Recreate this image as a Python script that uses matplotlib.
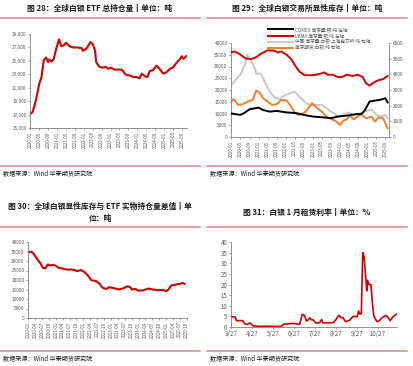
import matplotlib
matplotlib.use('Agg')
import matplotlib.pyplot as plt
import matplotlib.dates as mdates
import matplotlib.ticker as ticker
import pandas as pd

plt.rcParams['font.family'] = ['Noto Sans CJK SC', 'DejaVu Sans']

RED = '#d00000'
GRID_TXT = '#595959'
DIVIDER = '#dc8484'

# ---- chart 28: global silver ETF holdings (t)
etf_dates = ['2020-01-01', '2020-02-01', '2020-03-15', '2020-05-01', '2020-06-01', '2020-07-01',
             '2020-08-01', '2020-09-01', '2020-09-15', '2020-10-18', '2020-11-15', '2020-12-18',
             '2021-01-25', '2021-02-25', '2021-04-01', '2021-05-01', '2021-06-18', '2021-08-01',
             '2021-10-01', '2021-12-01', '2021-12-18', '2022-02-01', '2022-04-01', '2022-05-01',
             '2022-06-01', '2022-06-18', '2022-08-01', '2022-09-18', '2022-11-01', '2022-12-01',
             '2023-01-01', '2023-03-01', '2023-06-01', '2023-07-01', '2023-08-01', '2023-10-01',
             '2023-11-01', '2023-12-20', '2024-02-01', '2024-03-01', '2024-04-12', '2024-05-18',
             '2024-06-20', '2024-08-01', '2024-09-20', '2024-11-01', '2024-12-20', '2025-02-01',
             '2025-03-20', '2025-05-01', '2025-06-20', '2025-08-01', '2025-09-01', '2025-09-20',
             '2025-11-01']
etf_vals = [17100, 17400, 19100, 21600, 22600, 25100, 25500, 24800, 25200, 24900, 25300, 26800,
            28200, 27200, 27300, 27700, 27200, 27000, 27000, 26900, 26500, 26800, 27800, 27500,
            26600, 24800, 24100, 24000, 24100, 23800, 24000, 23700, 23700, 23300, 22900, 22800,
            22600, 22600, 22400, 23100, 22700, 22600, 23500, 23600, 24300, 23800, 23100, 23300,
            23800, 24000, 24700, 25200, 25700, 25300, 25700]
etf_ticks = [15000, 17000, 19000, 21000, 23000, 25000, 27000, 29000]

# ---- chart 29: exchange inventories
lbma_dates = ['2020-01-01', '2020-02-15', '2020-04-01', '2020-06-01', '2020-07-18', '2020-09-25',
              '2020-12-01', '2021-02-01', '2021-05-01', '2021-08-01', '2021-09-18', '2021-11-01',
              '2022-01-12', '2022-03-15', '2022-05-01', '2022-07-01', '2022-09-12', '2023-01-01',
              '2023-04-01', '2023-06-01', '2023-07-18', '2023-09-25', '2023-12-01', '2024-02-01',
              '2024-04-01', '2024-06-15', '2024-09-01', '2024-11-01', '2024-12-15', '2025-02-01',
              '2025-04-01', '2025-06-10', '2025-08-01', '2025-10-01']
lbma_vals = [36150, 36400, 35700, 34300, 33300, 33200, 34000, 35400, 36900, 36700, 36000, 36400,
             35000, 33200, 30700, 27900, 26300, 26300, 26800, 27500, 26500, 26500, 25500, 25600,
             26500, 26000, 26500, 25500, 22900, 21900, 23300, 24300, 24600, 26000]

comex_dates = ['2020-01-01', '2020-05-01', '2020-07-01', '2020-09-01', '2021-01-01', '2021-03-01',
               '2021-06-01', '2021-09-01', '2022-01-01', '2022-06-01', '2022-09-01', '2023-01-01',
               '2023-05-01', '2023-09-01', '2023-12-01', '2024-04-01', '2024-08-01', '2024-10-15',
               '2024-12-01', '2025-02-01', '2025-04-15', '2025-06-20', '2025-09-01', '2025-10-01']
comex_vals = [10000, 9400, 10400, 11800, 12500, 11500, 10800, 11100, 10500, 10100, 9400, 8700,
              8400, 8000, 8700, 9100, 9700, 9800, 11500, 15100, 15500, 15800, 16500, 14700]

sge_dates = ['2020-01-01', '2020-02-25', '2020-05-01', '2020-07-01', '2020-08-01', '2020-09-01',
             '2020-11-01', '2020-12-01', '2021-02-01', '2021-04-01', '2021-06-01', '2021-08-01',
             '2021-10-01', '2022-01-01', '2022-02-01', '2022-04-01', '2022-05-01', '2022-07-01',
             '2022-10-01', '2022-12-01', '2023-03-01', '2023-05-01', '2023-07-01', '2023-10-01',
             '2023-12-15', '2024-03-01', '2024-05-01', '2024-07-01', '2024-10-01', '2024-12-01',
             '2025-03-01', '2025-05-01', '2025-07-01', '2025-09-01', '2025-10-01']
sge_vals = [3330, 3650, 3970, 4610, 5250, 5040, 4500, 4040, 4040, 3440, 2900, 2540, 2430, 2690,
            2750, 2840, 2900, 2580, 2160, 2050, 2050, 2050, 1840, 1520, 1300, 1470, 1560, 1410,
            1470, 1620, 1770, 1410, 1300, 1410, 1200]

shfe_dates = ['2020-01-01', '2020-02-01', '2020-04-01', '2020-06-01', '2020-08-10', '2020-10-15',
              '2020-12-01', '2021-01-15', '2021-03-01', '2021-05-01', '2021-07-01', '2021-09-01',
              '2021-11-01', '2022-01-15', '2022-03-15', '2022-05-01', '2022-06-15', '2022-09-01',
              '2022-10-15', '2022-12-20', '2023-03-01', '2023-05-01', '2023-07-01', '2023-09-15',
              '2023-11-15', '2024-01-01', '2024-02-15', '2024-04-01', '2024-05-15', '2024-07-01',
              '2024-09-01', '2024-10-15', '2024-11-01', '2024-12-15', '2025-03-01', '2025-04-15',
              '2025-06-01', '2025-08-01', '2025-09-01', '2025-10-01']
shfe_vals = [2260, 2430, 2050, 2090, 2260, 2370, 2970, 2840, 2480, 2260, 2050, 2090, 2370, 2330,
             1940, 1560, 1410, 1520, 1730, 2160, 1840, 1620, 1300, 1130, 980, 770, 1050, 1130,
             1350, 1130, 1300, 1520, 1350, 1200, 1300, 980, 1260, 1200, 875, 555]

# ---- chart 30: visible inventory minus ETF holdings
gap_dates = ['2020-01-01', '2020-02-12', '2020-03-18', '2020-05-01', '2020-06-12', '2020-07-12',
             '2020-08-15', '2020-09-15', '2020-10-20', '2020-12-01', '2021-01-07', '2021-02-07',
             '2021-03-18', '2021-05-25', '2021-08-01', '2021-09-10', '2021-10-10', '2021-12-01',
             '2022-01-18', '2022-03-01', '2022-04-15', '2022-06-18', '2022-08-01', '2022-09-12',
             '2022-10-28', '2022-12-10', '2023-02-12', '2023-04-15', '2023-06-20', '2023-08-01',
             '2023-09-07', '2023-10-07', '2023-11-20', '2024-01-01', '2024-03-07', '2024-05-10',
             '2024-07-15', '2024-09-18', '2024-11-20', '2025-01-01', '2025-02-01', '2025-03-10',
             '2025-05-12', '2025-07-10', '2025-08-10', '2025-09-01']
gap_vals = [34700, 34900, 33500, 30800, 28700, 26400, 26100, 28200, 27700, 28000, 27300, 26400,
            26100, 25500, 25500, 25200, 24700, 25200, 24100, 22400, 19900, 19400, 18100, 15900,
            15300, 16200, 15700, 15000, 15700, 16700, 16400, 15000, 15300, 14400, 14600, 15500,
            15000, 14600, 14800, 14100, 15000, 17100, 17600, 18100, 18500, 18000]

# ---- chart 31: silver 1M lease rate (%)
lease_dates = ['2025-03-27', '2025-04-02', '2025-04-04', '2025-04-09', '2025-04-13', '2025-04-16',
               '2025-04-20', '2025-04-23', '2025-04-26', '2025-04-29', '2025-05-08', '2025-05-18',
               '2025-05-27', '2025-06-04', '2025-06-09', '2025-06-12', '2025-06-18', '2025-06-26',
               '2025-06-30', '2025-07-05', '2025-07-09', '2025-07-12', '2025-07-15', '2025-07-17',
               '2025-07-20', '2025-07-22', '2025-07-25', '2025-07-27', '2025-07-29', '2025-08-03',
               '2025-08-06', '2025-08-08', '2025-08-13', '2025-08-23', '2025-08-27', '2025-08-31',
               '2025-09-04', '2025-09-06', '2025-09-10', '2025-09-16', '2025-09-21', '2025-09-25',
               '2025-09-27', '2025-09-29', '2025-10-01', '2025-10-03', '2025-10-05', '2025-10-07',
               '2025-10-09', '2025-10-11', '2025-10-12', '2025-10-14', '2025-10-17', '2025-10-19',
               '2025-10-21', '2025-10-23', '2025-10-26', '2025-10-29', '2025-11-03', '2025-11-08',
               '2025-11-11', '2025-11-14', '2025-11-18', '2025-11-23']
lease_vals = [4.8, 4.8, 3.0, 3.0, 3.0, 1.5, 1.2, 1.9, 1.2, 0.5, 0.3, 0.4, 0.3, 0.2, 0.5, 1.3, 1.5,
              1.7, 1.5, 1.2, 6.0, 5.5, 2.8, 3.2, 4.3, 3.5, 3.3, 2.5, 1.8, 2.0, 3.5, 2.0, 2.0, 2.0,
              3.5, 5.5, 4.3, 4.5, 2.5, 3.2, 5.0, 5.0, 4.8, 7.5, 6.0, 6.5, 35, 33, 25, 17, 22, 20,
              20, 12, 5.5, 4.0, 2.5, 3.0, 4.5, 5.5, 4.5, 3.0, 4.8, 6.0]

W, H = 414, 366
fig = plt.figure(figsize=(W / 100, H / 100), dpi=100)


def fx(px):
    return px / W


def fy(py):
    return 1 - py / H


def panel_frame(x0, title_lines, title_y, div_top, div_bot):
    for i, t in enumerate(title_lines):
        fig.text(fx(x0 + 100), fy(title_y[i]), t, ha='center', va='center',
                 fontsize=5.6, fontweight='bold', color='#1a1a1a')
    for y in (div_top, div_bot):
        fig.add_artist(plt.Line2D([fx(x0), fx(x0 + 200)], [fy(y), fy(y)],
                                  color=DIVIDER, lw=1.1))
    fig.text(fx(x0 + 3), fy(div_bot + 7), '数据来源：Wind 华泰期货研究院', ha='left', va='center',
             fontsize=4.4, color='#1a1a1a')


def add_axes(l, t, r, b):
    return fig.add_axes([fx(l), fy(b), fx(r) - fx(l), fy(t) - fy(b)])


def style_axes(ax, fs=3.4):
    for s in ('top', 'right'):
        ax.spines[s].set_visible(False)
    for s in ('left', 'bottom'):
        ax.spines[s].set_color('#7f7f7f')
        ax.spines[s].set_linewidth(0.6)
    ax.tick_params(axis='both', labelsize=fs, colors='#7f7f7f', labelcolor=GRID_TXT,
                   length=1.5, width=0.5, pad=1)


def date_axis(ax, months):
    ax.xaxis.set_major_locator(mdates.MonthLocator(bymonth=months))
    ax.xaxis.set_major_formatter(mdates.DateFormatter('%Y-%m'))
    for lab in ax.get_xticklabels():
        lab.set_rotation(90)
    ax.tick_params(axis='x', labelsize=3.2)


# chart 28
panel_frame(0, ['图 28：全球白银 ETF 总持仓量丨单位：吨'], [8], 18, 166)
ax1 = add_axes(30, 34, 187, 128)
style_axes(ax1)
ax1.plot(pd.to_datetime(etf_dates), etf_vals, color=RED, lw=1.5)
ax1.set_ylim(15000, 29000)
ax1.yaxis.set_major_locator(ticker.FixedLocator(etf_ticks))
ax1.yaxis.set_major_formatter(ticker.StrMethodFormatter('{x:,.0f}'))
ax1.set_xlim(pd.Timestamp('2019-12-26'), pd.Timestamp('2025-11-10'))
date_axis(ax1, [1, 5, 9])

# chart 29
panel_frame(207, ['图 29：全球白银交易所显性库存丨单位：吨'], [8], 18, 166)
ax2 = add_axes(231, 43, 389, 137)
style_axes(ax2)
ax2b = ax2.twinx()
for s in ('top', 'left', 'bottom'):
    ax2b.spines[s].set_visible(False)
ax2b.spines['right'].set_color('#7f7f7f')
ax2b.spines['right'].set_linewidth(0.6)
ax2b.tick_params(axis='y', labelsize=3.4, colors='#7f7f7f', labelcolor=GRID_TXT,
                 length=1.5, width=0.5, pad=1)
l1, = ax2.plot(pd.to_datetime(comex_dates), comex_vals, color='black', lw=1.4,
               label='COMEX:库存量:银:吨 左轴', zorder=4)
l2, = ax2.plot(pd.to_datetime(lbma_dates), lbma_vals, color=RED, lw=1.4,
               label='LBMA:库存量:银:吨 左轴', zorder=4)
l3, = ax2b.plot(pd.to_datetime(sge_dates), sge_vals, color='#c8c8c8', lw=1.4,
                label='中国:库存量:白银:上海金交所:吨 右轴')
l4, = ax2b.plot(pd.to_datetime(shfe_dates), shfe_vals, color='#f07d28', lw=1.4,
                label='库存期货:白银:吨 右轴')
ax2.set_zorder(ax2b.get_zorder() + 1)
ax2.patch.set_visible(False)
ax2.set_ylim(0, 40000)
ax2.yaxis.set_major_locator(ticker.MultipleLocator(5000))
ax2b.set_ylim(0, 6000)
ax2b.yaxis.set_major_locator(ticker.MultipleLocator(1000))
ax2.set_xlim(pd.Timestamp('2019-12-27'), pd.Timestamp('2025-10-20'))
date_axis(ax2, [1, 5, 9])
fig.legend(handles=[l1, l2, l3, l4], loc='upper left', bbox_to_anchor=(fx(268), fy(27)),
           frameon=False, fontsize=3.3, handlelength=5.5, handletextpad=0.4,
           labelspacing=0.25, borderaxespad=0, borderpad=0, labelcolor=GRID_TXT)

# chart 30
panel_frame(0, ['图 30：全球白银显性库存与 ETF 实物持仓量差值丨单', '位：吨'], [206, 218], 227, 351)
ax3 = add_axes(28, 242, 187, 318)
style_axes(ax3)
ax3.plot(pd.to_datetime(gap_dates), gap_vals, color=RED, lw=1.5)
ax3.set_ylim(0, 40000)
ax3.yaxis.set_major_locator(ticker.MultipleLocator(5000))
ax3.set_xlim(pd.Timestamp('2019-12-28'), pd.Timestamp('2025-10-05'))
date_axis(ax3, [1, 4, 7, 10])

# chart 31
panel_frame(207, ['图 31：白银 1 月租赁利率丨单位：%'], [212], 227, 351)
ax4 = add_axes(231, 242, 397, 327)
style_axes(ax4, fs=4.4)
ax4.plot(pd.to_datetime(lease_dates), lease_vals, color=RED, lw=1.2)
ax4.set_ylim(0, 40)
ax4.yaxis.set_major_locator(ticker.MultipleLocator(5))
ax4.set_xlim(pd.Timestamp('2025-03-27'), pd.Timestamp('2025-11-24'))
ax4.xaxis.set_major_locator(mdates.DayLocator(bymonthday=27))
ax4.xaxis.set_major_formatter(ticker.FuncFormatter(
    lambda v, p: '%d/%d' % (mdates.num2date(v).month, mdates.num2date(v).day)))

fig.savefig('out.png', dpi=100)
